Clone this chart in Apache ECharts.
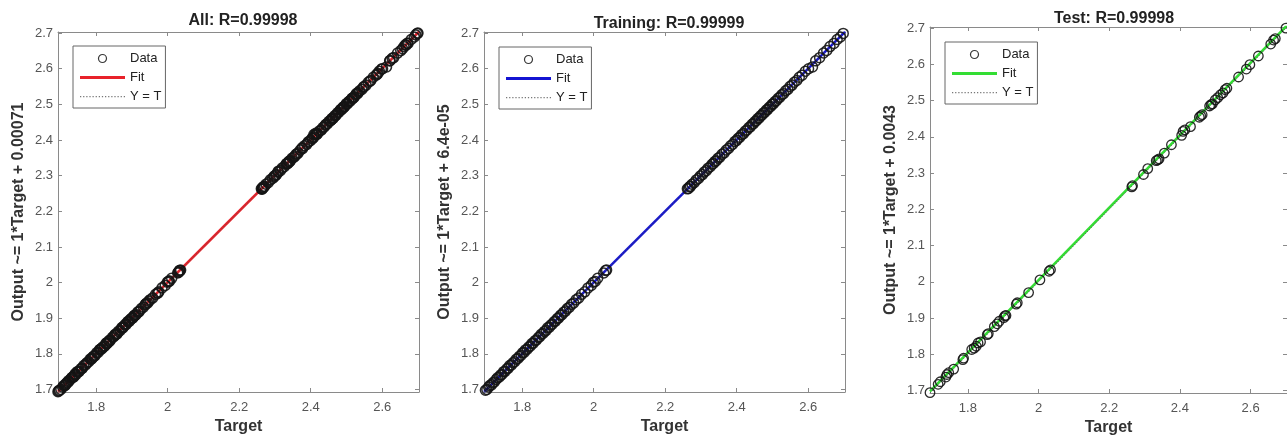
<!DOCTYPE html>
<html><head><meta charset="utf-8">
<script src="https://cdn.jsdelivr.net/npm/echarts@6/dist/echarts.min.js"></script>
<style>html,body{margin:0;padding:0;background:#fff}#c{width:1287px;height:441px}</style>
</head><body><div id="c"></div>
<script>
// ---------- data ----------
const panelTitles = ['All: R=0.99998', 'Training: R=0.99999', 'Test: R=0.99998'];
const panelKeys = ['All', 'Training', 'Test'];
const yAxisNames = ['Output ~= 1*Target + 0.00071', 'Output ~= 1*Target + 6.4e-05', 'Output ~= 1*Target + 0.0043'];
const xAxisName = 'Target';
const legendLabels = ['Data', 'Fit', 'Y = T'];
const xTickValues = [1.8, 2, 2.2, 2.4, 2.6];
const yTickValues = [1.7, 1.8, 1.9, 2, 2.1, 2.2, 2.3, 2.4, 2.5, 2.6, 2.7];
const axisLimits = [1.693, 2.703];

// [target, output]
const trainData = [
[1.690,1.691],[1.693,1.692],[1.697,1.698],[1.701,1.700],[1.706,1.707],[1.709,1.711],[1.714,1.713],[1.718,1.719],[1.722,1.721],[1.727,1.728],
[1.731,1.733],[1.736,1.735],[1.740,1.741],[1.743,1.742],[1.748,1.750],[1.752,1.751],[1.757,1.758],[1.761,1.760],[1.765,1.767],[1.770,1.769],
[1.774,1.775],[1.779,1.778],[1.783,1.785],[1.788,1.787],[1.792,1.793],[1.797,1.796],[1.801,1.803],[1.805,1.804],[1.809,1.811],[1.814,1.813],
[1.818,1.819],[1.823,1.822],[1.827,1.829],[1.831,1.830],[1.836,1.837],[1.840,1.839],[1.845,1.846],[1.849,1.848],[1.853,1.855],[1.858,1.857],
[1.862,1.863],[1.867,1.866],[1.871,1.873],[1.876,1.875],[1.880,1.881],[1.884,1.883],[1.889,1.890],[1.893,1.892],[1.898,1.899],[1.902,1.901],
[1.907,1.908],[1.911,1.910],[1.916,1.917],[1.921,1.920],[1.926,1.927],[1.932,1.931],[1.938,1.939],[1.944,1.943],[1.951,1.952],[1.958,1.957],
[1.966,1.967],[1.975,1.974],[1.984,1.985],[1.993,1.992],[1.999,2.001],[2.004,2.003],[2.011,2.012],[2.028,2.027],[2.033,2.034],[2.036,2.035],
[2.262,2.263],[2.265,2.264],[2.268,2.269],[2.271,2.270],[2.275,2.276],[2.281,2.280],[2.287,2.288],[2.293,2.292],[2.298,2.299],[2.304,2.303],
[2.309,2.310],[2.315,2.314],[2.320,2.321],[2.326,2.325],[2.331,2.332],[2.335,2.334],[2.339,2.340],[2.343,2.342],[2.348,2.349],[2.353,2.352],
[2.359,2.360],[2.365,2.364],[2.371,2.372],[2.377,2.376],[2.383,2.384],[2.389,2.388],[2.395,2.396],[2.400,2.399],[2.404,2.405],[2.409,2.408],
[2.414,2.415],[2.419,2.418],[2.424,2.425],[2.429,2.428],[2.434,2.435],[2.438,2.437],[2.443,2.444],[2.447,2.446],[2.451,2.452],[2.455,2.454],
[2.459,2.460],[2.463,2.462],[2.467,2.468],[2.471,2.470],[2.475,2.476],[2.479,2.478],[2.483,2.484],[2.487,2.486],[2.491,2.492],[2.495,2.494],
[2.499,2.500],[2.503,2.502],[2.507,2.508],[2.511,2.510],[2.516,2.517],[2.521,2.520],[2.526,2.527],[2.531,2.530],[2.537,2.538],[2.543,2.542],
[2.549,2.550],[2.555,2.554],[2.561,2.562],[2.568,2.567],[2.575,2.576],[2.583,2.582],[2.592,2.593],[2.601,2.600],[2.612,2.605],[2.621,2.622],
[2.632,2.631],[2.643,2.644],[2.652,2.651],[2.661,2.662],[2.672,2.671],[2.681,2.682],[2.690,2.689],[2.698,2.699]
];
const validationData = [
[1.695,1.696],[1.712,1.711],[1.733,1.734],[1.751,1.750],[1.772,1.773],[1.795,1.794],[1.812,1.813],[1.829,1.828],[1.851,1.852],[1.873,1.872],
[1.895,1.896],[1.918,1.917],[1.947,1.948],[1.972,1.971],[2.002,2.003],[2.031,2.030],[2.266,2.267],[2.302,2.301],[2.333,2.334],[2.362,2.361],
[2.392,2.393],[2.417,2.416],[2.441,2.442],[2.469,2.468],[2.493,2.494],[2.518,2.517],[2.547,2.548],[2.586,2.585],[2.628,2.629],[2.667,2.666],[2.694,2.695]
];
const testData = [
[1.693,1.694],[1.716,1.717],[1.722,1.724],[1.738,1.737],[1.741,1.744],[1.746,1.749],[1.760,1.759],[1.786,1.785],[1.788,1.789],[1.811,1.813],
[1.818,1.817],[1.824,1.822],[1.829,1.831],[1.836,1.834],[1.855,1.854],[1.858,1.857],[1.875,1.876],[1.883,1.884],[1.889,1.891],[1.902,1.901],
[1.905,1.906],[1.908,1.907],[1.937,1.938],[1.940,1.942],[1.972,1.970],[2.004,2.005],[2.030,2.029],[2.034,2.033],[2.264,2.262],[2.266,2.265],
[2.297,2.296],[2.309,2.312],[2.333,2.334],[2.337,2.336],[2.341,2.339],[2.356,2.355],[2.376,2.378],[2.405,2.404],[2.409,2.415],[2.414,2.419],
[2.430,2.428],[2.455,2.454],[2.459,2.458],[2.463,2.461],[2.484,2.485],[2.488,2.489],[2.492,2.491],[2.500,2.502],[2.507,2.508],[2.515,2.516],
[2.522,2.521],[2.528,2.530],[2.533,2.534],[2.566,2.565],[2.588,2.587],[2.598,2.599],[2.622,2.623],[2.657,2.656],[2.665,2.667],[2.670,2.671],[2.700,2.700]
];
const allData = trainData.concat(validationData, testData);

// fitted lines (endpoints) and the Y = T reference
const fitAll = [[1.693, 1.6937], [2.703, 2.7037]];
const fitTraining = [[1.693, 1.69306], [2.703, 2.70306]];
const fitTest = [[1.693, 1.6973], [2.703, 2.7073]];
const identityLine = [[1.693, 1.693], [2.703, 2.703]];

// ---------- layout / style ----------
const panelData = [allData, trainData, testData];
const panelFits = [fitAll, fitTraining, fitTest];
const fitColors = ['#e8222a', '#1414d2', '#33dd33'];
const markerSizes = [10, 10, 9.5];
const markerWidths = [1.6, 1.5, 1.3];
const grids = [
  {left: 58, top: 32, width: 361, height: 360},
  {left: 484, top: 32, width: 361, height: 360},
  {left: 930, top: 27, width: 358, height: 366}
];
const titlePos = [{x: 238, y: 8}, {x: 664, y: 11}, {x: 1109, y: 6}];
const legendPos = [{left: 73, top: 46}, {left: 499, top: 47}, {left: 945, top: 42}];
const FONT = 'Liberation Sans';
const axisColor = '#8a8a8a';
const labelColor = '#555';

const xAxes = [], yAxes = [], series = [], titles = [], legends = [];
const dotPath = 'path://' + Array.from({length: 15}, (_, k) => 'M' + (k * 3) + ',0h1.2v1.2h-1.2z').join(' ');

panelKeys.forEach((key, i) => {
  const common = {
    type: 'value', min: axisLimits[0], max: axisLimits[1], gridIndex: i,
    splitLine: {show: false},
    axisLine: {show: true, onZero: false, lineStyle: {color: axisColor, width: 1}},
    axisTick: {show: true, inside: true, length: 4, lineStyle: {color: axisColor}}
  };
  xAxes.push(Object.assign({}, common, {
    position: 'bottom', name: xAxisName, nameLocation: 'middle', nameGap: 27,
    nameTextStyle: {fontFamily: FONT, fontSize: 16, fontWeight: 'bold', color: '#333'},
    axisTick: Object.assign({}, common.axisTick, {customValues: xTickValues}),
    axisLabel: {customValues: xTickValues, margin: 9, fontFamily: FONT, fontSize: 13, color: labelColor, formatter: v => String(+v.toFixed(2))}
  }));
  xAxes.push(Object.assign({}, common, {
    position: 'top',
    axisTick: Object.assign({}, common.axisTick, {customValues: xTickValues}),
    axisLabel: {show: false, customValues: xTickValues}
  }));
  yAxes.push(Object.assign({}, common, {
    position: 'left', name: yAxisNames[i], nameLocation: 'middle', nameGap: 31,
    nameTextStyle: {fontFamily: FONT, fontSize: 16, fontWeight: 'bold', color: '#333'},
    axisTick: Object.assign({}, common.axisTick, {customValues: yTickValues}),
    axisLabel: {customValues: yTickValues, margin: 5, fontFamily: FONT, fontSize: 13, color: labelColor, formatter: v => String(+v.toFixed(2))}
  }));
  yAxes.push(Object.assign({}, common, {
    position: 'right',
    axisTick: Object.assign({}, common.axisTick, {customValues: yTickValues}),
    axisLabel: {show: false, customValues: yTickValues}
  }));

  const nData = legendLabels[0] + ' (' + key + ')';
  const nFit = legendLabels[1] + ' (' + key + ')';
  const nId = legendLabels[2] + ' (' + key + ')';
  series.push({
    name: nFit, type: 'line', xAxisIndex: 2 * i, yAxisIndex: 2 * i, data: panelFits[i],
    symbol: 'none', lineStyle: {color: fitColors[i], width: 2.5}, itemStyle: {color: fitColors[i]}, z: 2, silent: true
  });
  series.push({
    name: nId, type: 'line', xAxisIndex: 2 * i, yAxisIndex: 2 * i, data: identityLine,
    symbol: 'none', lineStyle: {color: '#555', width: 1, type: [1, 2]}, itemStyle: {color: '#777'}, z: 3, silent: true
  });
  series.push({
    name: nData, type: 'scatter', xAxisIndex: 2 * i, yAxisIndex: 2 * i, data: panelData[i],
    symbol: 'circle', symbolSize: markerSizes[i],
    itemStyle: {color: 'rgba(0,0,0,0)', borderColor: '#141414', borderWidth: markerWidths[i], opacity: 0.9}, z: 4, silent: true
  });

  titles.push({
    text: panelTitles[i], left: titlePos[i].x, top: titlePos[i].y, textAlign: 'center',
    textStyle: {fontFamily: FONT, fontSize: 16, fontWeight: 'bold', color: '#222'}
  });
  legends.push({
    orient: 'vertical', left: legendPos[i].left, top: legendPos[i].top,
    itemWidth: 45, itemHeight: 8, itemGap: 6, selectedMode: false,
    padding: [6, 4, 5, 7], borderColor: '#666', borderWidth: 1, backgroundColor: '#fff',
    textStyle: {fontFamily: FONT, fontSize: 13, color: '#222'},
    formatter: name => name.split(' (')[0],
    data: [
      {name: nData, icon: 'circle', itemStyle: {color: 'rgba(0,0,0,0)', borderColor: '#222', borderWidth: 1.2}},
      {name: nFit, icon: 'path://M0,0H60V4H0Z', itemStyle: {color: fitColors[i], borderWidth: 0}},
      {name: nId, icon: dotPath, itemStyle: {color: '#777', borderWidth: 0}}
    ]
  });
});

const chart = echarts.init(document.getElementById('c'), null, {renderer: 'canvas'});
chart.setOption({
  animation: false,
  backgroundColor: '#fff',
  title: titles,
  legend: legends,
  grid: grids,
  xAxis: xAxes,
  yAxis: yAxes,
  series: series
});
</script>
</body></html>
